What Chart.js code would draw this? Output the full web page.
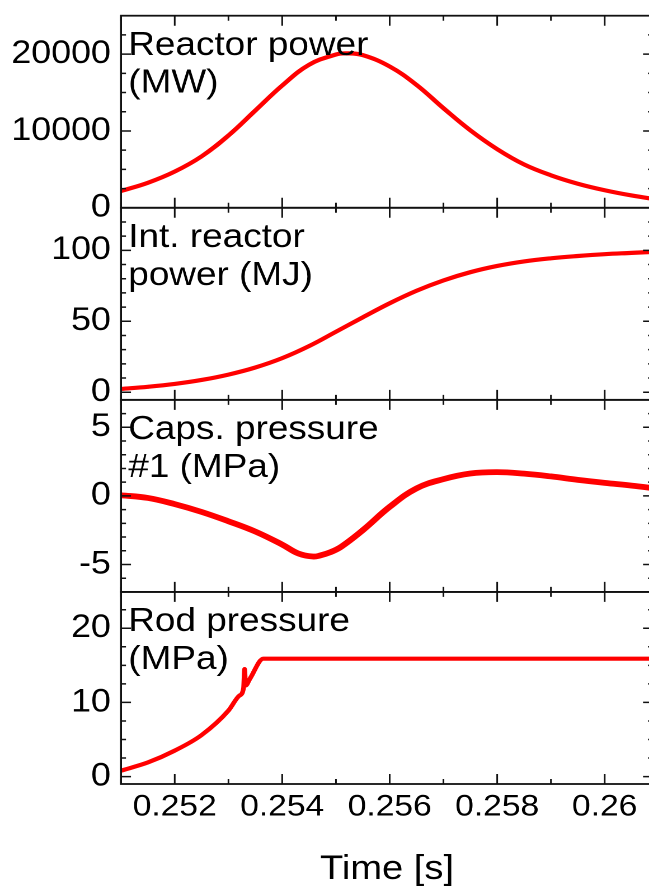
<!DOCTYPE html>
<html>
<head>
<meta charset="utf-8">
<script src="https://cdn.jsdelivr.net/npm/chart.js@4"></script>
<style>
  html, body { margin: 0; padding: 0; background: #fff; overflow: hidden; width: 649px; height: 892px; }
  /* the original figure is a little wider than tall in its glyphs, so stretch horizontally */
  #wrap { position: absolute; left: 0; top: 0; width: 600px; height: 892px; transform: scaleX(1.119); transform-origin: 0 0; }
</style>
</head>
<body>
<div id="wrap"><canvas id="chart-transient"></canvas></div>
<script>
// x axis (s)
const xMajorTicks = [0.252, 0.254, 0.256, 0.258, 0.26];

// reactor power (MW)
const powerTime = [0.2510, 0.2515, 0.2520, 0.2525, 0.2530, 0.2535, 0.2540, 0.2545, 0.2550, 0.2552, 0.2555, 0.2560, 0.2565, 0.2570, 0.2575, 0.2580, 0.2585, 0.2590, 0.2595, 0.2600, 0.2605, 0.2610];
const powerMW = [2180, 3250, 4710, 6690, 9410, 12660, 15910, 18620, 19950, 20100, 19870, 18390, 15990, 12960, 10080, 7630, 5640, 4230, 3130, 2280, 1600, 1050];
const powerTicks = [0, 10000, 20000];

// integrated reactor power (MJ)
const energyTime = [0.2510, 0.2515, 0.2520, 0.2525, 0.2530, 0.2535, 0.2540, 0.2545, 0.2550, 0.2555, 0.2560, 0.2565, 0.2570, 0.2575, 0.2580, 0.2585, 0.2590, 0.2595, 0.2600, 0.2605, 0.2610];
const energyMJ = [2.3, 3.8, 5.8, 8.6, 12.4, 17.4, 24.0, 32.5, 42.6, 52.8, 62.7, 71.5, 78.8, 84.6, 89.0, 92.2, 94.4, 96.0, 97.3, 98.2, 99.1];
const energyTicks = [0, 50, 100];

// capsule pressure #1 (MPa)
const capsTime = [0.2510, 0.2515, 0.2520, 0.2525, 0.2530, 0.2535, 0.2540, 0.2543, 0.25457, 0.2547, 0.2549, 0.2551, 0.2555, 0.2560, 0.2565, 0.2570, 0.2575, 0.2580, 0.2585, 0.2590, 0.2595, 0.2600, 0.2605, 0.2610];
const capsMPa = [0.05, -0.15, -0.6, -1.17, -1.85, -2.6, -3.55, -4.2, -4.42, -4.35, -4.1, -3.7, -2.5, -0.8, 0.55, 1.22, 1.63, 1.73, 1.62, 1.42, 1.17, 0.95, 0.75, 0.52];
const capsTicks = [-5, 0, 5];

// rod pressure (MPa)
const rodTime = [0.2510, 0.2515, 0.2520, 0.2525, 0.2530, 0.25320, 0.25328, 0.25330, 0.25332, 0.2534, 0.25365, 0.2580, 0.2610];
const rodMPa = [0.8, 1.9, 3.5, 5.6, 8.9, 10.9, 11.9, 14.5, 12.3, 13.2, 15.9, 15.9, 15.9];
const rodTicks = [0, 10, 20];

const STRETCH = 1.119;
const RED = "#ff0000";

// listed top to bottom
const panels = [
  { id: "y1", title: ["Reactor power", "(MW)"], min: 0, max: 25000, majorStep: 10000, minorStep: 2500, ticks: powerTicks },
  { id: "y2", title: ["Int. reactor", "power (MJ)"], min: -5.4, max: 130, majorStep: 50, minorStep: 10, ticks: energyTicks },
  { id: "y3", title: ["Caps. pressure", "#1 (MPa)"], min: -7, max: 7, majorStep: 5, minorStep: 1, ticks: capsTicks },
  { id: "y4", title: ["Rod pressure", "(MPa)"], min: -1, max: 24.9, majorStep: 10, minorStep: 2.5, ticks: rodTicks },
];

document.addEventListener("DOMContentLoaded", () => {
  main();
});

const main = () => {
  Chart.defaults.font.family = '"Liberation Sans", Arial, sans-serif';
  Chart.defaults.color = "#000";

  const ctx = document.querySelector("#chart-transient");
  new Chart(ctx, generateChartConfig());
};

const toPoints = (xs, ys) => xs.map((x, i) => ({ x, y: ys[i] }));

const makeDataset = (xs, ys, axis, width, mode) => ({
  data: toPoints(xs, ys),
  yAxisID: axis,
  borderColor: RED,
  backgroundColor: RED,
  borderWidth: width,
  pointRadius: 0,
  tension: 0.4,
  cubicInterpolationMode: mode,
});

const makeYScale = (p) => ({
  type: "linear",
  position: "left",
  stack: "panels",
  stackWeight: 1,
  min: p.min,
  max: p.max,
  grid: { display: false, drawTicks: false },
  border: { display: false },
  ticks: {
    font: { size: 32 },
    padding: 9,
    autoSkip: false,
    color: "#000",
    callback: (v) => String(v),
  },
  afterBuildTicks: (axis) => {
    axis.ticks = p.ticks.map((v) => ({ value: v }));
  },
  afterFit: (axis) => {
    axis.width = 108.1;
    // labels never sit on the outer edge, so no extra room is needed
    axis.paddingTop = 0;
    axis.paddingBottom = 0;
  },
});

// frames with inward ticks on all four sides, plus the panel labels
const framePlugin = {
  id: "frames",
  afterDatasetsDraw(chart) {
    const { ctx, chartArea, scales } = chart;
    const xs = scales.x;
    const { left, right } = chartArea;

    ctx.save();
    ctx.strokeStyle = "#111";

    panels.forEach((p) => {
      const ys = scales[p.id];
      const top = ys.top;
      const bottom = ys.bottom;

      ctx.lineWidth = 1.5;
      ctx.beginPath();
      for (let k = 0; k <= 10; k++) {
        const v = 0.251 + k * 0.001;
        if (v > xs.max) break;
        const px = xs.getPixelForValue(v);
        const len = k % 2 === 1 ? 10 : 5;
        ctx.moveTo(px, top);
        ctx.lineTo(px, top + len);
        ctx.moveTo(px, bottom);
        ctx.lineTo(px, bottom - len);
      }
      const start = Math.ceil(p.min / p.minorStep);
      const end = Math.floor(p.max / p.minorStep);
      for (let k = start; k <= end; k++) {
        const v = k * p.minorStep;
        const py = ys.getPixelForValue(v);
        const r = v / p.majorStep;
        const len = (Math.abs(r - Math.round(r)) < 1e-6 ? 10 : 5) / STRETCH;
        ctx.moveTo(left, py);
        ctx.lineTo(left + len, py);
        ctx.moveTo(right, py);
        ctx.lineTo(right - len, py);
      }
      ctx.stroke();

      ctx.lineWidth = 1.8;
      ctx.strokeRect(left, top, right - left, bottom - top);

      ctx.fillStyle = "#000";
      ctx.font = '33px "Liberation Sans", Arial, sans-serif';
      ctx.textBaseline = "alphabetic";
      ctx.textAlign = "left";
      ctx.fillText(p.title[0], left + 6.5, top + 39.3);
      ctx.fillText(p.title[1], left + 6.5, top + 77);
    });

    ctx.restore();
  },
};

const generateChartConfig = () => {
  const scales = {
    x: {
      type: "linear",
      position: "bottom",
      min: 0.251,
      max: 0.2609,
      grid: { display: false, drawTicks: false },
      border: { display: false },
      ticks: {
        font: { size: 30 },
        padding: 5,
        maxRotation: 0,
        autoSkip: false,
        color: "#000",
        callback: (v) => String(+Number(v).toFixed(3)),
      },
      afterBuildTicks: (axis) => {
        axis.ticks = xMajorTicks.map((v) => ({ value: v }));
      },
      afterFit: (axis) => {
        axis.height = 108;
      },
      title: {
        display: true,
        text: "Time [s]",
        font: { size: 34 },
        color: "#000",
        padding: { top: 0, bottom: 2 },
      },
    },
  };
  // stacked axes are laid out from the bottom up
  [...panels].reverse().forEach((p) => {
    scales[p.id] = makeYScale(p);
  });

  return {
    type: "line",
    data: {
      datasets: [
        makeDataset(powerTime, powerMW, "y1", 4.2, "default"),
        makeDataset(energyTime, energyMJ, "y2", 4.2, "default"),
        makeDataset(capsTime, capsMPa, "y3", 5.8, "default"),
        makeDataset(rodTime, rodMPa, "y4", 4.2, "monotone"),
      ],
    },
    options: {
      responsive: true,
      maintainAspectRatio: false,
      animation: false,
      devicePixelRatio: 2,
      layout: { padding: { left: 0, right: 16.4, top: 15.7, bottom: 0 } },
      plugins: {
        legend: { display: false },
        tooltip: { enabled: false },
      },
      scales,
    },
    plugins: [framePlugin],
  };
};
</script>
</body>
</html>
